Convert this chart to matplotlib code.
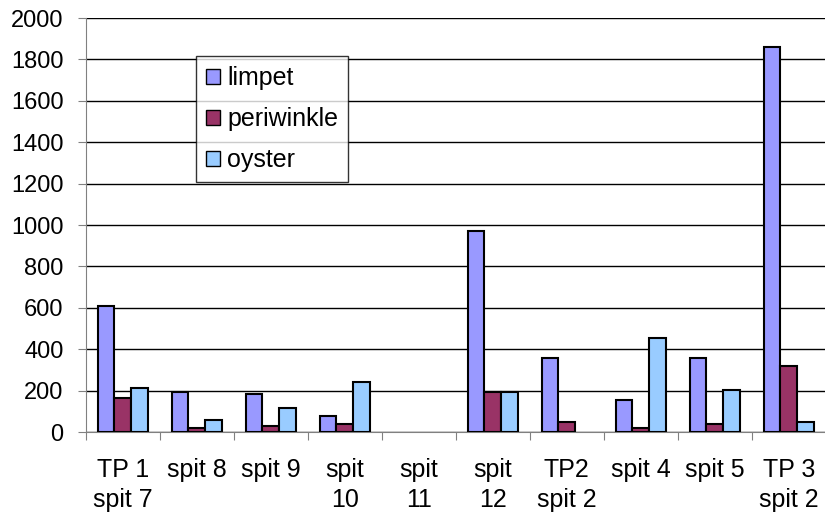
import numpy as np
import matplotlib
matplotlib.use('Agg')
import matplotlib.pyplot as plt

plt.rcParams['font.family'] = ['Liberation Sans', 'DejaVu Sans']

# shell counts per context
categories = ['TP 1\nspit 7', 'spit 8', 'spit 9', 'spit\n10', 'spit\n11',
              'spit\n12', 'TP2\nspit 2', 'spit 4', 'spit 5', 'TP 3\nspit 2']
limpet = [607, 193, 183, 77, 0, 972, 357, 154, 357, 1862]
periwinkle = [165, 19, 30, 40, 0, 191, 48, 19, 39, 318]
oyster = [212, 58, 117, 241, 0, 191, 0, 453, 202, 47]

series = [('limpet', limpet, '#9999FF'),
          ('periwinkle', periwinkle, '#993366'),
          ('oyster', oyster, '#99CCFF')]

fig = plt.figure(figsize=(8.25, 5.19), dpi=100)
ax = fig.add_axes([0.104, 0.1676, 0.897, 0.7977])

x = np.arange(len(categories))
w = 0.225
for i, (name, vals, col) in enumerate(series):
    # empty counts get no bar outline
    vals = np.array(vals, dtype=float)
    vals[vals == 0] = np.nan
    ax.bar(x + (i - 1) * w, vals, width=w, color=col, edgecolor='black',
           linewidth=1.5, label=name, zorder=3)

ax.set_xlim(-0.5, len(categories) - 0.5)
ax.set_ylim(0, 2000)
ax.set_yticks(np.arange(0, 2001, 200))
ax.yaxis.grid(True, color='black', linewidth=1.0, zorder=0)
ax.tick_params(axis='y', labelsize=17, length=6, color='#808080', pad=10)

# boundaries get the tick marks, centres get the labels
ax.set_xticks(np.arange(len(categories) + 1) - 0.5)
ax.set_xticklabels([])
ax.tick_params(axis='x', which='major', length=6, color='#808080')
ax.set_xticks(x, minor=True)
ax.set_xticklabels(categories, minor=True, fontsize=18, linespacing=1.3)
ax.tick_params(axis='x', which='minor', length=0, pad=19)

for s in ['top', 'right']:
    ax.spines[s].set_visible(False)
ax.spines['left'].set_color('#808080')
ax.spines['bottom'].set_color('#808080')

leg = fig.legend(loc='upper left', bbox_to_anchor=(196 / 825, 1 - 56 / 519),
                 fontsize=18, frameon=True, fancybox=False, borderaxespad=0,
                 handlelength=0.55, handleheight=0.55, handletextpad=0.3,
                 labelspacing=0.68, borderpad=0.4)
leg.get_frame().set_edgecolor('black')
leg.get_frame().set_linewidth(1.0)
for h in leg.legend_handles:
    h.set_linewidth(1.0)

fig.savefig('out.png', dpi=100)
